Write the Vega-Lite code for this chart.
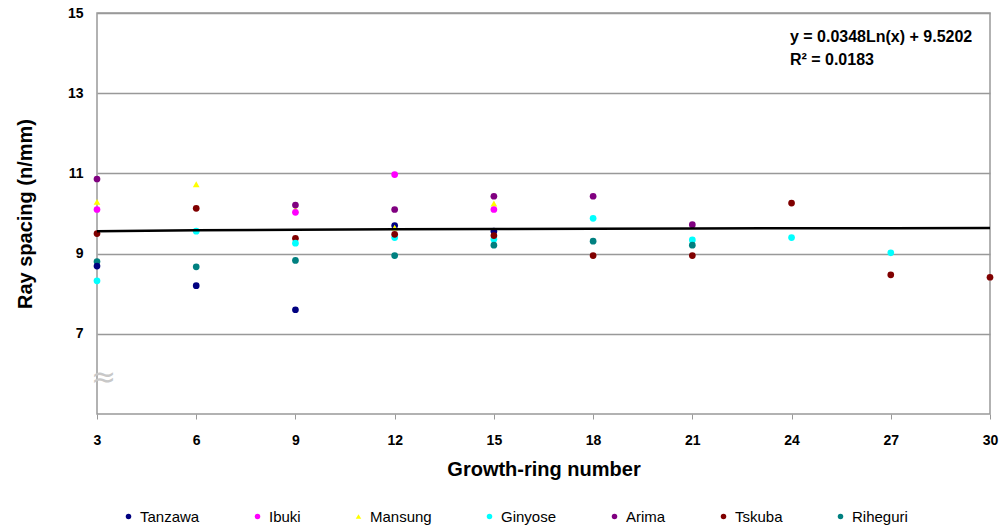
{
  "$schema": "https://vega.github.io/schema/vega-lite/v6.json",
  "autosize": "none",
  "width": 893,
  "height": 401,
  "padding": {"left": 97, "top": 13, "right": 15, "bottom": 115},
  "background": "white",
  "config": {
    "font": "Liberation Sans",
    "view": {"stroke": "#999", "strokeWidth": 1.5},
    "axis": {"labelFont": "Liberation Sans", "titleFont": "Liberation Sans"}
  },
  "datasets": {
    "pts": [
      {"ring": 3, "series": "Arima", "v": 10.86},
      {"ring": 3, "series": "Mansung", "v": 10.29},
      {"ring": 3, "series": "Ibuki", "v": 10.10},
      {"ring": 3, "series": "Tskuba", "v": 9.50},
      {"ring": 3, "series": "Riheguri", "v": 8.80},
      {"ring": 3, "series": "Tanzawa", "v": 8.69},
      {"ring": 3, "series": "Ginyose", "v": 8.32},
      {"ring": 6, "series": "Mansung", "v": 10.73},
      {"ring": 6, "series": "Tskuba", "v": 10.13},
      {"ring": 6, "series": "Ginyose", "v": 9.56},
      {"ring": 6, "series": "Riheguri", "v": 8.67},
      {"ring": 6, "series": "Tanzawa", "v": 8.20},
      {"ring": 9, "series": "Mansung", "v": 10.10},
      {"ring": 9, "series": "Arima", "v": 10.21},
      {"ring": 9, "series": "Ibuki", "v": 10.03},
      {"ring": 9, "series": "Tskuba", "v": 9.38},
      {"ring": 9, "series": "Ginyose", "v": 9.26},
      {"ring": 9, "series": "Riheguri", "v": 8.83},
      {"ring": 9, "series": "Tanzawa", "v": 7.60},
      {"ring": 12, "series": "Ibuki", "v": 10.97},
      {"ring": 12, "series": "Arima", "v": 10.10},
      {"ring": 12, "series": "Tanzawa", "v": 9.70},
      {"ring": 12, "series": "Mansung", "v": 9.65},
      {"ring": 12, "series": "Ginyose", "v": 9.40},
      {"ring": 12, "series": "Tskuba", "v": 9.48},
      {"ring": 12, "series": "Riheguri", "v": 8.95},
      {"ring": 15, "series": "Arima", "v": 10.43},
      {"ring": 15, "series": "Mansung", "v": 10.25},
      {"ring": 15, "series": "Ibuki", "v": 10.10},
      {"ring": 15, "series": "Tanzawa", "v": 9.56},
      {"ring": 15, "series": "Ginyose", "v": 9.36},
      {"ring": 15, "series": "Tskuba", "v": 9.45},
      {"ring": 15, "series": "Riheguri", "v": 9.21},
      {"ring": 18, "series": "Arima", "v": 10.43},
      {"ring": 18, "series": "Ginyose", "v": 9.88},
      {"ring": 18, "series": "Riheguri", "v": 9.31},
      {"ring": 18, "series": "Tskuba", "v": 8.95},
      {"ring": 21, "series": "Arima", "v": 9.72},
      {"ring": 21, "series": "Ginyose", "v": 9.34},
      {"ring": 21, "series": "Riheguri", "v": 9.21},
      {"ring": 21, "series": "Tskuba", "v": 8.95},
      {"ring": 24, "series": "Tskuba", "v": 10.26},
      {"ring": 24, "series": "Ginyose", "v": 9.40},
      {"ring": 27, "series": "Ginyose", "v": 9.02},
      {"ring": 27, "series": "Tskuba", "v": 8.47},
      {"ring": 30, "series": "Tskuba", "v": 8.41}
    ],
    "trend": [
      {"ring": 3, "v": 9.558},
      {"ring": 6, "v": 9.583},
      {"ring": 9, "v": 9.597},
      {"ring": 12, "v": 9.607},
      {"ring": 15, "v": 9.614},
      {"ring": 18, "v": 9.621},
      {"ring": 21, "v": 9.626},
      {"ring": 24, "v": 9.631},
      {"ring": 27, "v": 9.635},
      {"ring": 30, "v": 9.639}
    ],
    "notes": [
      {"ring": 23.95, "v": 14.41, "t": "y = 0.0348Ln(x) + 9.5202"},
      {"ring": 23.95, "v": 13.84, "t": "R² = 0.0183"}
    ],
    "brk": [
      {"ring": 3.2, "v": 5.9, "t": "≈"}
    ]
  },
  "layer": [
    {
      "data": {"name": "pts"},
      "mark": {"type": "point", "filled": true, "opacity": 1, "size": 45},
      "encoding": {
        "x": {
          "field": "ring", "type": "quantitative",
          "scale": {"domain": [3, 30], "nice": false, "zero": false},
          "axis": {
            "values": [3, 6, 9, 12, 15, 18, 21, 24, 27, 30],
            "title": "Growth-ring number",
            "titleFontSize": 20, "titleFontWeight": "bold", "titleColor": "black", "titlePadding": 12,
            "labelFontSize": 14, "labelFontWeight": "bold", "labelColor": "black", "labelPadding": 14,
            "labelFlush": false,
            "grid": false, "domain": false, "ticks": true, "tickSize": 5, "tickColor": "#999"
          }
        },
        "y": {
          "field": "v", "type": "quantitative",
          "scale": {"domain": [5, 15], "nice": false, "zero": false},
          "axis": {
            "values": [7, 9, 11, 13, 15],
            "title": "Ray spacing (n/mm)",
            "titleFontSize": 20, "titleFontWeight": "bold", "titleColor": "black", "titlePadding": 32,
            "labelFontSize": 14, "labelFontWeight": "bold", "labelColor": "black", "labelPadding": 14,
            "labelFlush": false,
            "grid": true, "gridColor": "#999", "gridWidth": 1.5, "domain": false, "ticks": false
          }
        },
        "color": {
          "field": "series", "type": "nominal",
          "scale": {
            "domain": ["Tanzawa", "Ibuki", "Mansung", "Ginyose", "Arima", "Tskuba", "Riheguri"],
            "range": ["#000080", "#FF00FF", "#FFFF00", "#00FFFF", "#800080", "#800000", "#008080"]
          },
          "legend": {
            "title": null, "orient": "none", "legendX": 24, "legendY": 496,
            "direction": "horizontal", "gridAlign": "none",
            "columnPadding": 50, "symbolSize": 30, "labelFontSize": 15, "labelColor": "black",
            "labelFont": "Liberation Sans", "symbolOffset": 0, "labelOffset": 4
          }
        },
        "shape": {
          "field": "series", "type": "nominal",
          "scale": {
            "domain": ["Tanzawa", "Ibuki", "Mansung", "Ginyose", "Arima", "Tskuba", "Riheguri"],
            "range": ["circle", "circle", "triangle-up", "circle", "circle", "circle", "circle"]
          },
          "legend": {
            "title": null, "orient": "none", "legendX": 24, "legendY": 496,
            "direction": "horizontal", "gridAlign": "none",
            "columnPadding": 50, "symbolSize": 30, "labelFontSize": 15, "labelColor": "black",
            "labelFont": "Liberation Sans", "symbolOffset": 0, "labelOffset": 4
          }
        }
      }
    },
    {
      "data": {"name": "trend"},
      "mark": {"type": "line", "color": "black", "strokeWidth": 2.5},
      "encoding": {
        "x": {"field": "ring", "type": "quantitative"},
        "y": {"field": "v", "type": "quantitative"}
      }
    },
    {
      "data": {"name": "notes"},
      "mark": {"type": "text", "align": "left", "baseline": "middle", "fontSize": 16, "fontWeight": "bold", "color": "black", "font": "Liberation Sans"},
      "encoding": {
        "x": {"field": "ring", "type": "quantitative"},
        "y": {"field": "v", "type": "quantitative"},
        "text": {"field": "t"}
      }
    },
    {
      "data": {"name": "brk"},
      "mark": {"type": "text", "align": "center", "baseline": "middle", "fontSize": 30, "color": "#c8c8c8", "font": "DejaVu Sans"},
      "encoding": {
        "x": {"field": "ring", "type": "quantitative"},
        "y": {"field": "v", "type": "quantitative"},
        "text": {"field": "t"}
      }
    }
  ]
}
